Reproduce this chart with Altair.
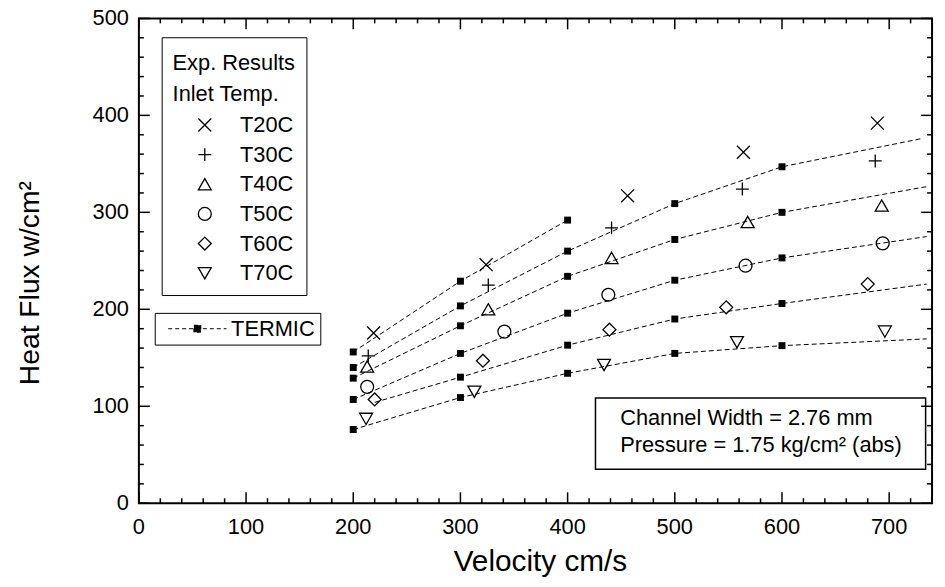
import altair as alt
import pandas as pd

FONT = "Liberation Sans"

# ---------------- data ----------------
series = ["T20C", "T30C", "T40C", "T50C", "T60C", "T70C"]

# experimental results (velocity cm/s, heat flux w/cm2)
exp_v = {
    "T20C": [219, 324, 456, 564, 689],
    "T30C": [214, 326, 441, 563, 687],
    "T40C": [213, 326, 441, 568, 693],
    "T50C": [213, 341, 438, 566, 694],
    "T60C": [220, 321, 439, 548, 680],
    "T70C": [212, 313, 434, 558, 696],
}
exp_q = {
    "T20C": [175.6, 246, 317, 362, 392],
    "T30C": [152, 225, 284, 324, 353],
    "T40C": [141, 200, 253, 290, 307],
    "T50C": [120, 177, 215, 245, 268],
    "T60C": [107, 147, 179, 202, 226],
    "T70C": [87, 115, 142.5, 166, 177],
}

# TERMIC computed points
termic_v = [200, 300, 400, 500, 600]
termic_q = {
    "T20C": [156, 229, 292, None, None],
    "T30C": [140, 203.5, 260, 309, 347],
    "T40C": [129, 183, 234, 272, 300],
    "T50C": [107, 154.5, 196, 230, 253],
    "T60C": [None, 130, 163, 190, 206],
    "T70C": [76, 109, 134, 154.5, 162.5],
}
# dashed curve start / end points without a marker
curve_start = {"T60C": (220, 104)}
curve_end = {
    "T30C": (730, 376),
    "T40C": (735, 326.5),
    "T50C": (735, 275),
    "T60C": (735, 226),
    "T70C": (735, 169.5),
}

x_major = list(range(0, 701, 100))
x_minor = [v for v in range(20, 740, 20) if v % 100 != 0]
y_major = list(range(0, 501, 100))
y_minor = [v for v in range(20, 500, 20) if v % 100 != 0]
x_labels = [str(v) for v in x_major]
y_labels = [str(v) for v in y_major]
x_title = "Velocity cm/s"
y_title = "Heat Flux w/cm\u00b2"

ann_box = {"x0": 426, "x1": 734, "y0": 35, "y1": 108.5}
ann_lines = ["Channel Width = 2.76 mm", "Pressure = 1.75 kg/cm\u00b2 (abs)"]
ann_x = [449, 449]
ann_y = [80.8, 53.2]

# ---------------- tables ----------------
exp_rows = []
for s in series:
    for v, q in zip(exp_v[s], exp_q[s]):
        exp_rows.append({"v": v, "q": q, "series": s})
exp_df = pd.DataFrame(exp_rows)

sq_rows, line_rows = [], []
for s in series:
    pts = []
    if s in curve_start:
        pts.append(curve_start[s])
    for v, q in zip(termic_v, termic_q[s]):
        if q is not None:
            sq_rows.append({"v": v, "q": q, "series": s, "model": "TERMIC"})
            pts.append((v, q))
    if s in curve_end:
        pts.append(curve_end[s])
    for i, (v, q) in enumerate(pts):
        line_rows.append({"v": v, "q": q, "series": s, "o": i})
sq_df = pd.DataFrame(sq_rows)
line_df = pd.DataFrame(line_rows)

box_df = pd.DataFrame([ann_box])
txt_df = pd.DataFrame({"t": ann_lines, "x": ann_x, "y": ann_y})

# ---------------- scales ----------------
W, H = 800, 489
xs = alt.Scale(domain=[0, 740], nice=False, zero=False)
ys = alt.Scale(domain=[0, 500], nice=False, zero=False)
MAJ, MIN = 11, 5


def X(field):
    return alt.X(field, scale=xs, axis=None)


def Y(field):
    return alt.Y(field, scale=ys, axis=None)


# inward frame ticks on all four sides (positions come from the scales)
def x_ticks(values, side, size):
    y0 = H if side == "bottom" else 0
    y1 = y0 - size if side == "bottom" else size
    return alt.Chart(pd.DataFrame({"v": values, "side": side})).mark_rule(
        color="black", strokeWidth=1.5, opacity=1
    ).encode(x=X("v:Q"), y=alt.value(y0), y2=alt.value(y1))


def y_ticks(values, side, size):
    x0 = 0 if side == "left" else W
    x1 = size if side == "left" else W - size
    return alt.Chart(pd.DataFrame({"q": values, "side": side})).mark_rule(
        color="black", strokeWidth=1.5, opacity=1
    ).encode(y=Y("q:Q"), x=alt.value(x0), x2=alt.value(x1))


tick_layers = [
    x_ticks(x_major, "bottom", MAJ), x_ticks(x_minor, "bottom", MIN),
    x_ticks(x_major, "top", MAJ), x_ticks(x_minor, "top", MIN),
    y_ticks(y_major, "left", MAJ), y_ticks(y_minor, "left", MIN),
    y_ticks(y_major, "right", MAJ), y_ticks(y_minor, "right", MIN),
]

# tick labels (placed by the scales) and axis titles
x_lab = alt.Chart(pd.DataFrame({"v": x_major, "t": x_labels})).mark_text(
    font=FONT, fontSize=22, color="black", align="center", baseline="top"
).encode(x=X("v:Q"), y=alt.value(H + 14), text="t:N")

y_lab = alt.Chart(pd.DataFrame({"q": y_major, "t": y_labels})).mark_text(
    font=FONT, fontSize=22, color="black", align="right", baseline="middle"
).encode(y=Y("q:Q"), x=alt.value(-10), text="t:N")

x_tit = alt.Chart(pd.DataFrame({"t": [x_title]})).mark_text(
    font=FONT, fontSize=30, color="black", align="center", baseline="alphabetic"
).encode(x=alt.value(405), y=alt.value(H + 68), text="t:N")

y_tit = alt.Chart(pd.DataFrame({"t": [y_title]})).mark_text(
    font=FONT, fontSize=28.5, color="black", align="center", baseline="alphabetic",
    angle=270,
).encode(x=alt.value(-101), y=alt.value(267), text="t:N")

# ---------------- marks ----------------
shape_paths = [
    "M-1,-1L1,1M-1,1L1,-1",
    "M-1,0L1,0M0,-1L0,1",
    "M0,-0.87L1,0.87L-1,0.87Z",
    "circle",
    "M0,-1L1,0L0,1L-1,0Z",
    "M0,0.87L1,-0.87L-1,-0.87Z",
]

legend_exp = alt.Legend(
    orient="none", legendX=23, legendY=19,
    title=["Exp. Results", "Inlet Temp."], titleFont=FONT, titleFontSize=22,
    titleFontWeight="normal", titleColor="black", titleLineHeight=31,
    titleBaseline="line-top", titlePadding=13.5,
    labelFont=FONT, labelFontSize=22, labelColor="black",
    strokeColor="black", fillColor="white", padding=11,
    symbolOffset=21.5, labelOffset=24.5, rowPadding=7.9,
    symbolSize=170, symbolStrokeColor="black", symbolFillColor="transparent",
    symbolStrokeWidth=1.3,
)

termic_path = "M-8.4,0L8.4,0M-1,-1L1,-1L1,1L-1,1Z"
legend_termic = alt.Legend(
    orient="none", legendX=16, legendY=297, title=None,
    labelFont=FONT, labelFontSize=22, labelColor="black",
    strokeColor="black", fillColor="white", padding=5,
    symbolType=termic_path, symbolSize=49, symbolOffset=27, labelOffset=23,
    symbolFillColor="black", symbolStrokeColor="black", symbolStrokeWidth=1,
    symbolDash=[4, 3],
)

lines = alt.Chart(line_df).mark_line(
    color="black", strokeWidth=1, strokeDash=[5, 3]
).encode(
    x=X("v:Q"), y=Y("q:Q"), detail="series:N", order="o:Q",
)

squares = alt.Chart(sq_df).mark_point(
    shape="square", filled=True, size=49, opacity=1
).encode(
    x=X("v:Q"), y=Y("q:Q"),
    color=alt.Color("model:N", scale=alt.Scale(domain=["TERMIC"], range=["black"]),
                    legend=legend_termic),
)

points = alt.Chart(exp_df).mark_point(
    filled=False, color="black", strokeWidth=1.3, size=170, opacity=1
).encode(
    x=X("v:Q"), y=Y("q:Q"),
    shape=alt.Shape("series:N", scale=alt.Scale(domain=series, range=shape_paths),
                    legend=legend_exp),
)

box = alt.Chart(box_df).mark_rect(
    fill="white", stroke="black", strokeWidth=1.5
).encode(
    x=X("x0:Q"), x2="x1:Q", y=Y("y0:Q"), y2="y1:Q",
)

texts = alt.Chart(txt_df).mark_text(
    font=FONT, fontSize=22, color="black", align="left", baseline="alphabetic"
).encode(
    x=X("x:Q"), y=Y("y:Q"), text="t:N",
)

chart = alt.layer(
    lines, box, texts, squares, points, x_lab, y_lab, x_tit, y_tit, *tick_layers
).properties(
    width=W, height=H,
    autosize=alt.AutoSizeParams(type="none"),
    padding={"left": 132, "top": 8, "right": 5, "bottom": 82},
    background="white",
).configure_view(
    stroke="black", strokeWidth=2
)

chart.save("out.html", embed_options={"renderer": "svg", "actions": False})
